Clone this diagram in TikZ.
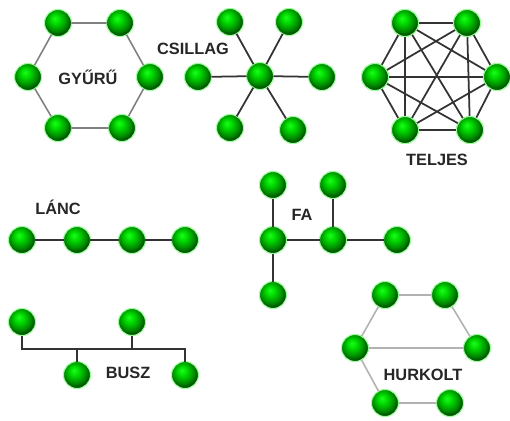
\documentclass[tikz,border=0pt]{standalone}
\usepackage{fontspec}
\setmainfont{Liberation Sans}
\usetikzlibrary{positioning}
\pgfdeclareradialshading{greenball}{\pgfqpoint{-6bp}{9bp}}{%
  color(0bp)=(green!90!white); color(9bp)=(green!85!black);
  color(20bp)=(green!55!black); color(27bp)=(green!30!black);
  color(50bp)=(green!25!black)}

\begin{document}
\begin{tikzpicture}[x=0.02cm, y=-0.02cm,% styles used in image code
 ball/.style = {circle, shading=greenball, draw=green!40!white,
                line width=0.6pt, minimum size=0.54cm,
                inner sep=0pt, outer sep=0pt},
 dark/.style = {draw=black!80, line width=1pt},
 gray/.style = {draw=black!50, line width=0.9pt},
light/.style = {draw=black!30, line width=0.9pt},
label/.style = {font=\fontsize{9.3}{11}\selectfont\bfseries, text=black!85}
                    ]
	\useasboundingbox (0,0) rectangle (510,420);

	% ring
	\node[ball] (g1) at (58,23) {};
	\node[ball] (g2) at (120,23) {};
	\node[ball] (g3) at (150,77) {};
	\node[ball] (g4) at (122,128) {};
	\node[ball] (g5) at (58,128) {};
	\node[ball] (g6) at (28,77) {};
	\draw[gray] (g1) -- (g2) -- (g3) -- (g4) -- (g5) -- (g6) -- (g1);
	\node[label] (gyuru) at (88,77) {GYŰRŰ};

	% star
	\node[ball] (s0) at (260,76) {};
	\node[ball] (s1) at (230,22) {};
	\node[ball] (s2) at (289,22) {};
	\node[ball] (s3) at (322,77) {};
	\node[ball] (s4) at (293,130) {};
	\node[ball] (s5) at (230,128) {};
	\node[ball] (s6) at (198,77) {};
	\foreach \i in {1,...,6}
		\draw[dark] (s0) -- (s\i);
	\node[label] (csillag) at (193,49) {CSILLAG};

	% complete
	\node[ball] (t1) at (405,23) {};
	\node[ball] (t2) at (467,23) {};
	\node[ball] (t3) at (497,77) {};
	\node[ball] (t4) at (470,130) {};
	\node[ball] (t5) at (405,130) {};
	\node[ball] (t6) at (375,77) {};
	\foreach \i/\j in {1/2,1/3,1/4,1/5,1/6,2/3,2/4,2/5,2/6,3/4,3/5,3/6,4/5,4/6,5/6}
		\draw[dark] (t\i.center) -- (t\j.center);
	\foreach \i in {1,...,6}
		\node[ball] at (t\i) {};
	\node[label] (teljes) at (437,160) {TELJES};

	% chain
	\node[ball] (l1) at (22,240) {};
	\node[ball] (l2) at (77,240) {};
	\node[ball] (l3) at (132,240) {};
	\node[ball] (l4) at (185,240) {};
	\draw[dark] (l1) -- (l2) -- (l3) -- (l4);
	\node[label] (lanc) at (58,207) {LÁNC};

	% bus
	\node[ball] (b1) at (22,322) {};
	\node[ball] (b2) at (132,322) {};
	\node[ball] (b3) at (77,375) {};
	\node[ball] (b4) at (185,375) {};
	\coordinate (bl) at (22,349);
	\coordinate (br) at (185,349);
	\draw[dark] (b1) -- (bl) -- (br) -- (b4);
	\draw[dark] (b2) -- (b2 |- bl);
	\draw[dark] (b3) -- (b3 |- bl);
	\node[label] (busz) at (128,373) {BUSZ};

	% tree
	\node[ball] (f1) at (273,185) {};
	\node[ball] (f2) at (333,185) {};
	\node[ball] (f3) at (273,240) {};
	\node[ball] (f4) at (333,240) {};
	\node[ball] (f5) at (397,240) {};
	\node[ball] (f6) at (273,295) {};
	\draw[dark] (f1) -- (f3) -- (f6);
	\draw[dark] (f3) -- (f4) -- (f5);
	\draw[dark] (f2) -- (f4);
	\node[label] (fa) at (302,215) {FA};

	% mesh
	\node[ball] (h1) at (385,295) {};
	\node[ball] (h2) at (445,295) {};
	\node[ball] (h3) at (355,348) {};
	\node[ball] (h4) at (477,348) {};
	\node[ball] (h5) at (385,403) {};
	\node[ball] (h6) at (450,403) {};
	\draw[light] (h1) -- (h2) -- (h4) -- (h3) -- (h1);
	\draw[light] (h3) -- (h5) -- (h6);
	\node[label] (hurkolt) at (423,375) {HURKOLT};
\end{tikzpicture}
\end{document}
